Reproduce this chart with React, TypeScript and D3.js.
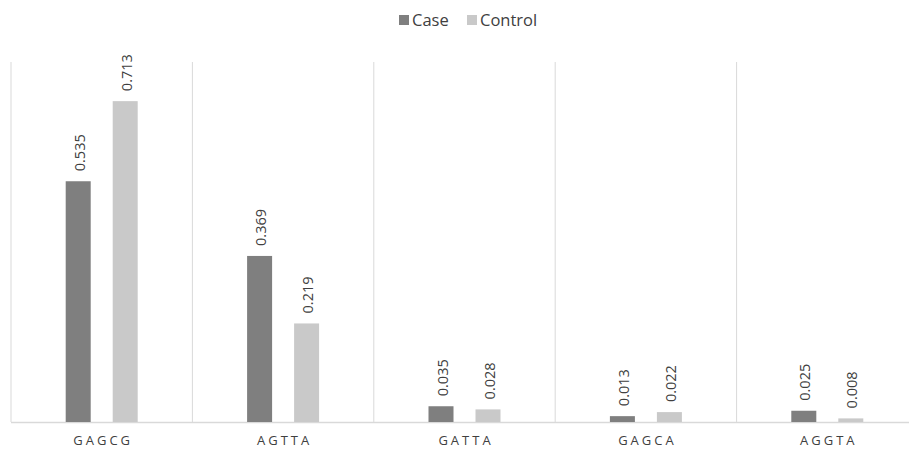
import React from "react";
import * as d3 from "d3";

const categories = ["GAGCG", "AGTTA", "GATTA", "GAGCA", "AGGTA"];
const caseValues = [0.535, 0.369, 0.035, 0.013, 0.025];
const controlValues = [0.713, 0.219, 0.028, 0.022, 0.008];
const seriesNames = ["Case", "Control"];
const seriesColors = ["#7f7f7f", "#c9c9c9"];

const W = 909;
const H = 455;

export default function App() {
  const x = d3.scaleBand<string>().domain(categories).range([11, 918]).padding(0);
  const y = d3.scaleLinear().domain([0, 0.8]).range([422, 62]);
  const barW = 25;
  const off = 23.5;
  const font = "'Open Sans', 'Liberation Sans', sans-serif";
  const series = [caseValues, controlValues];

  const separators = categories.map((c) => x(c)!).concat([x(categories[categories.length - 1])! + x.bandwidth()]);

  return (
    <div style={{ position: "fixed", left: 0, top: 0 }}>
      <svg width={W} height={H} style={{ display: "block", background: "#fff" }}>
        {separators.map((sx, i) => (
          <line key={i} x1={sx} x2={sx} y1={62} y2={422} stroke="#d9d9d9" strokeWidth={1} />
        ))}
        <line x1={11} x2={918} y1={422.5} y2={422.5} stroke="#d9d9d9" strokeWidth={1.5} />
        {categories.map((c, ci) => {
          const cx = x(c)! + x.bandwidth() / 2;
          return (
            <g key={c}>
              {series.map((vals, si) => {
                const bx = cx + (si === 0 ? -off : off);
                const v = vals[ci];
                const top = y(v);
                return (
                  <g key={si}>
                    <rect x={bx - barW / 2} y={top} width={barW} height={y(0) - top} fill={seriesColors[si]} />
                    <text
                      transform={`translate(${bx + 6.5},${top - 10}) rotate(-90)`}
                      fontFamily={font}
                      fontSize={14.5}
                      fill="#404040"
                      textAnchor="start"
                    >
                      {v.toFixed(3)}
                    </text>
                  </g>
                );
              })}
              <text
                x={cx + 1.5}
                y={445}
                textAnchor="middle"
                fontFamily={font}
                fontSize={13}
                letterSpacing={3}
                fill="#404040"
              >
                {c}
              </text>
            </g>
          );
        })}
        <g>
          {[
            { x: 399, i: 0 },
            { x: 467, i: 1 },
          ].map((l) => (
            <g key={l.i}>
              <rect x={l.x} y={15} width={10} height={10} fill={seriesColors[l.i]} />
              <text x={l.x + 13} y={26} fontFamily={font} fontSize={16.5} fill="#404040">
                {seriesNames[l.i]}
              </text>
            </g>
          ))}
        </g>
      </svg>
    </div>
  );
}
